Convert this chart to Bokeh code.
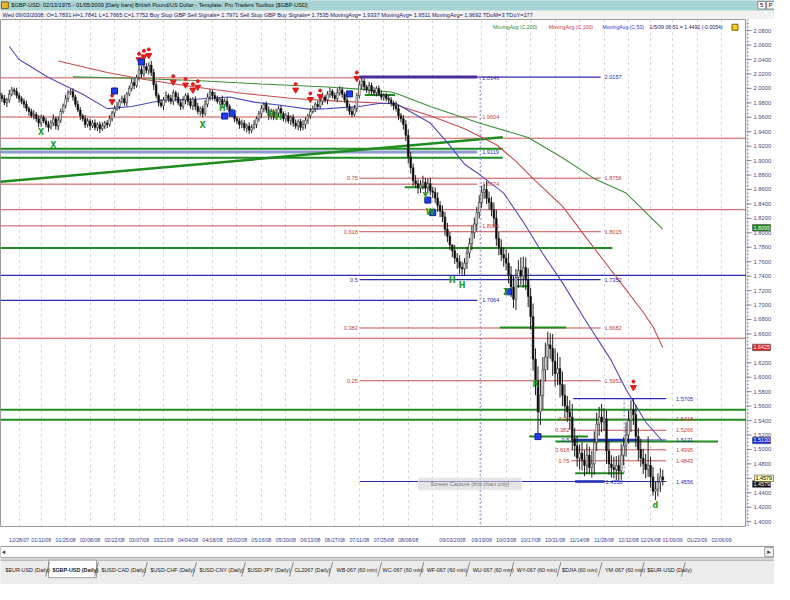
import pandas as pd
from bokeh.plotting import figure
from bokeh.layouts import column, row
from bokeh.models import ColumnDataSource, Range1d, FixedTicker
from bokeh.core.properties import value
from bokeh.embed import file_html
from bokeh.resources import INLINE

SANS = "Liberation Sans"

# ------------------------------------------------------------------ data
first_day = "2007-12-17"
axis_end_day = "2009-02-27"
holidays = ["2007-12-25", "2008-01-01", "2008-12-25", "2009-01-01"]

first_open = 1.994
close = [
    1.990, 1.986, 1.980, 1.984, 1.992, 1.998, 1.996, 1.990, 1.986, 1.982,
    1.978, 1.972, 1.968, 1.962, 1.964, 1.958, 1.952, 1.960, 1.955, 1.950,
    1.946, 1.952, 1.958, 1.948, 1.956, 1.968, 1.976, 1.986, 1.994, 1.996,
    1.988, 1.978, 1.970, 1.962, 1.958, 1.950, 1.955, 1.948, 1.952, 1.946,
    1.950, 1.944, 1.948, 1.952, 1.950, 1.958, 1.966, 1.972, 1.975, 1.982,
    1.986, 1.980, 1.992, 2.000, 2.008, 2.004, 2.015, 2.026, 2.020, 2.030,
    2.025, 2.032, 2.022, 2.005, 1.990, 1.980, 1.976, 1.984, 1.990, 1.986,
    1.982, 1.994, 1.988, 1.980, 1.975, 1.984, 1.990, 1.982, 1.976, 1.985,
    1.975, 1.968, 1.972, 1.965, 1.978, 1.988, 1.995, 1.990, 1.986, 1.982,
    1.985, 1.978, 1.982, 1.975, 1.968, 1.965, 1.958, 1.955, 1.950, 1.952,
    1.945, 1.948, 1.942, 1.946, 1.950, 1.958, 1.965, 1.972, 1.978, 1.970,
    1.962, 1.968, 1.960, 1.966, 1.972, 1.965, 1.958, 1.962, 1.955, 1.960,
    1.952, 1.948, 1.954, 1.946, 1.950, 1.956, 1.962, 1.968, 1.972, 1.978,
    1.975, 1.982, 1.988, 1.984, 1.992, 1.996, 1.990, 1.986, 1.994, 1.998,
    1.992, 1.984, 1.975, 1.968, 1.964, 1.972, 1.990, 2.005, 2.010, 2.002,
    1.998, 2.004, 1.996, 1.994, 2.000, 1.992, 1.988, 1.990, 1.986, 1.984,
    1.980, 1.976, 1.972, 1.962, 1.958, 1.950, 1.935, 1.905, 1.890, 1.872,
    1.868, 1.862, 1.866, 1.870, 1.862, 1.868, 1.858, 1.856, 1.848, 1.838,
    1.830, 1.822, 1.805, 1.795, 1.7831, 1.7752, 1.765, 1.760, 1.752, 1.750,
    1.758, 1.772, 1.785, 1.800, 1.812, 1.828, 1.842, 1.856, 1.860, 1.848,
    1.842, 1.832, 1.820, 1.792, 1.780, 1.770, 1.765, 1.758, 1.742, 1.725,
    1.708, 1.738, 1.748, 1.740, 1.752, 1.735, 1.712, 1.684, 1.625, 1.595,
    1.552, 1.575, 1.610, 1.628, 1.645, 1.640, 1.622, 1.605, 1.612, 1.590,
    1.575, 1.560, 1.552, 1.545, 1.515, 1.505, 1.488, 1.495, 1.485, 1.478,
    1.492, 1.475, 1.480, 1.510, 1.535, 1.545, 1.538, 1.542, 1.498, 1.480,
    1.475, 1.472, 1.478, 1.470, 1.492, 1.505, 1.520, 1.540, 1.555, 1.548,
    1.518, 1.500, 1.488, 1.480, 1.472, 1.478, 1.462, 1.442, 1.445, 1.455,
    1.462, 1.4579,
]
# wick extension above max(open, close) / below min(open, close), in 0.001
hi_ext = [
    6, 4, 5, 3, 6, 4, 3, 5, 4, 3,   4, 5, 3, 4, 6, 3, 5, 4, 3, 4,
    5, 4, 6, 3, 5, 4, 3, 5, 4, 3,   4, 3, 5, 4, 3, 5, 4, 3, 4, 5,
    3, 4, 5, 3, 4, 5, 3, 4, 6, 3,   4, 5, 3, 4, 6, 5, 4, 6, 5, 6,
    5, 4, 6, 5, 4, 3, 5, 4, 6, 3,   5, 4, 3, 6, 4, 5, 3, 4, 5, 3,
    4, 5, 3, 4, 6, 5, 4, 3, 5, 4,   3, 5, 4, 6, 3, 4, 5, 3, 4, 5,
    4, 3, 5, 4, 6, 3, 4, 5, 3, 4,   5, 4, 3, 6, 4, 5, 3, 4, 5, 3,
    4, 5, 3, 4, 6, 4, 3, 5, 4, 3,   5, 4, 6, 3, 4, 5, 3, 4, 6, 5,
    4, 3, 5, 4, 6, 5, 4, 6, 5, 4,   3, 5, 4, 6, 3, 4, 5, 3, 4, 5,
    4, 3, 6, 5, 4, 5, 6, 8, 7, 6,   8, 6, 7, 9, 6, 7, 8, 6, 7, 8,
    6, 8, 7, 9, 6, 1, 8, 7, 9, 8,   7, 9, 8, 10, 9, 8, 10, 9, 8, 12,
    9, 8, 10, 12, 9, 11, 10, 12, 14, 12,   15, 12, 14, 18, 15, 14, 16, 12, 18, 15,
    20, 22, 18, 20, 18, 16, 20, 18, 22, 16,   18, 15, 14, 16, 18, 15, 14, 12, 15, 14,
    16, 12, 18, 15, 16, 14, 18, 15, 12, 14,   12, 15, 13, 14, 16, 12, 18, 14, 13, 15,
    14, 12, 15, 13, 14, 40, 12, 14, 10, 12,   12, 10,
]
lo_ext = [
    4, 5, 3, 6, 4, 3, 5, 4, 6, 4,   5, 4, 6, 3, 5, 4, 6, 5, 3, 4,
    6, 3, 4, 5, 6, 4, 3, 4, 5, 3,   5, 4, 3, 6, 4, 5, 4, 6, 3, 4,
    5, 6, 3, 4, 5, 3, 4, 5, 3, 4,   3, 4, 5, 3, 4, 5, 3, 4, 5, 4,
    4, 6, 5, 7, 4, 5, 3, 6, 4, 5,   4, 5, 6, 3, 5, 4, 6, 5, 4, 6,
    5, 4, 6, 5, 3, 4, 5, 6, 4, 3,   5, 4, 3, 5, 6, 4, 5, 4, 6, 5,
    4, 6, 5, 4, 3, 5, 4, 6, 5, 4,   6, 5, 4, 3, 5, 6, 4, 5, 4, 6,
    5, 4, 6, 5, 4, 6, 5, 4, 3, 5,   4, 3, 5, 4, 6, 5, 4, 3, 5, 4,
    5, 4, 6, 5, 4, 3, 5, 4, 6, 5,   4, 6, 5, 4, 5, 3, 4, 5, 4, 6,
    5, 6, 4, 6, 5, 7, 8, 9, 8, 7,   6, 8, 7, 6, 8, 7, 6, 8, 7, 9,
    8, 7, 9, 8, 7, 8.7, 8, 10, 9, 8,   9, 8, 7, 9, 8, 10, 8, 7, 9, 8,
    10, 9, 12, 10, 11, 9, 12, 10, 12, 14,   12, 15, 14, 12, 16, 14, 15, 18, 16, 20,
    34, 18, 20, 16, 18, 15, 20, 18, 16, 18,   15, 16, 14, 18, 16, 15, 12, 16, 14, 15,
    12, 9, 14, 15, 12, 16, 14, 12, 18, 15,   14, 12, 15, 13, 12, 14, 15, 12, 16, 14,
    15, 16, 12, 14, 12, 10, 15, 6, 12, 10,   14, 8,
]

# date labels of the time axis; the crosshair tooltip (09/03/2008) hides 08/22/08 and 09/05/08
tick_dates = ["12/28/07", "01/11/08", "01/25/08", "02/08/08", "02/22/08", "03/07/08",
              "03/21/08", "04/04/08", "04/18/08", "05/02/08", "05/16/08", "05/30/08",
              "06/13/08", "06/27/08", "07/11/08", "07/25/08", "08/08/08", "08/22/08",
              "09/05/08", "09/19/08", "10/03/08", "10/17/08", "10/31/08", "11/14/08",
              "11/28/08", "12/12/08", "12/26/08", "01/09/09", "01/23/09", "02/06/09"]
cursor_date = "09/03/08"
cursor_label = "09/03/2008"
hidden_dates = ["08/22/08", "09/05/08"]

# moving averages (bar index, value)
ma200_i = [30, 54, 80, 107, 134, 147, 160, 163, 176, 196, 216, 230, 243, 256, 271]
ma200_v = [2.016, 2.014, 2.011, 2.006, 2.002, 1.999, 1.995, 1.992, 1.975, 1.952, 1.932, 1.904, 1.875, 1.855, 1.805]
ma100_i = [24, 44, 60, 80, 100, 120, 140, 160, 176, 190, 203, 211, 219, 230, 240, 247, 254, 263, 267, 271]
ma100_v = [2.038, 2.022, 2.012, 2.002, 1.993, 1.986, 1.982, 1.979, 1.962, 1.944, 1.922, 1.899, 1.872, 1.837,
           1.792, 1.761, 1.730, 1.690, 1.670, 1.641]
ma50_i = [4, 8, 20, 34, 44, 54, 67, 80, 94, 104, 114, 127, 134, 147, 155, 162, 176, 183, 190, 196,
          206, 214, 222, 230, 239, 250, 256, 264, 271]
ma50_v = [2.058, 2.040, 2.015, 1.992, 1.972, 1.975, 1.984, 1.985, 1.988, 1.981, 1.977, 1.971, 1.972,
          1.975, 1.979, 1.979, 1.952, 1.925, 1.895, 1.881, 1.855, 1.815, 1.771, 1.731, 1.681, 1.623,
          1.583, 1.538, 1.511]

# horizontal levels: price, start bar, end bar, kind
lvl_price = [2.0146, 2.0157, 2.0157, 1.9604, 1.9310, 1.9165, 1.9119, 1.9040, 1.8756, 1.8674,
             1.8320, 1.8096, 1.8015, 1.7790, 1.7410, 1.7352, 1.7064, 1.6690, 1.6682, 1.6540,
             1.5951, 1.5705, 1.5550, 1.5410, 1.5418, 1.5266, 1.5180, 1.5131, 1.5131, 1.5110,
             1.4995, 1.4843, 1.4670, 1.4556, 1.4556, 1.9910, 1.8630, 1.7260]
lvl_start = [0.4, 147.2, 195.2, 0.4, 0.4, 0.4, 0.4, 0.4, 147.2, 0.4,
             0.4, 0.4, 147.2, 0.4, 0.4, 147.2, 0.4, 204.4, 147.2, 0.4,
             147.2, 234.4, 0.4, 0.4, 233.6, 233.6, 216.4, 233.6, 233.6, 227.2,
             233.6, 233.6, 235.2, 147.2, 235.2, 149.2, 165.6, 211.2]
lvl_end = [147.2, 195.2, 245.6, 195.2, 305.2, 205.6, 195.2, 205.6, 245.6, 195.2,
           305.2, 195.2, 245.6, 250.4, 305.2, 245.6, 195.2, 231.6, 245.6, 305.2,
           245.6, 272.4, 305.2, 305.2, 272.4, 272.4, 240.4, 272.4, 260.4, 293.6,
           272.4, 272.4, 255.2, 272.4, 247.2, 161.6, 176.4, 216.4]
lvl_kind = ["red", "purple", "blue", "red", "red", "green", "greyblue", "green", "red", "red",
            "red", "red", "red", "green", "blue", "blue", "blue", "green", "red", "red",
            "red", "blue", "green", "green", "red", "red", "green", "blue", "bluethick", "green",
            "red", "red", "green", "blue", "bluethick", "green", "green", "green"]
trend_x = [0.4, 205.6]
trend_p = [1.8707, 1.9322]

# level texts
lab_text = ["2.0146", "2.0157", "1.9604", "1.9119", "1.8756", "1.8674", "1.8096", "1.8015",
            "1.7352", "1.7064", "1.6682", "1.5951", "1.5705", "1.5418", "1.5266", "1.5131",
            "1.4995", "1.4843", "1.4550", "1.4556"]
lab_x = [197.2, 247.2, 197.2, 197.2, 247.2, 197.2, 197.2, 247.2, 247.2, 197.2, 247.2, 247.2,
         276.4, 276.4, 276.4, 276.4, 276.4, 276.4, 247.6, 276.4]
lab_p = [2.0146, 2.0157, 1.9604, 1.9119, 1.8756, 1.8674, 1.8096, 1.8015, 1.7352, 1.7064,
         1.6682, 1.5951, 1.5705, 1.5418, 1.5266, 1.5131, 1.4995, 1.4843, 1.4556, 1.4556]
lab_kind = ["purple", "blue", "red", "blue", "red", "red", "red", "red", "blue", "blue", "red",
            "red", "blue", "red", "red", "blue", "red", "red", "blue", "blue"]
fib_text = ["0.75", "0.618", "0.5", "0.382", "0.25", "0.25", "0.382", "0.5", "0.618", "0.75"]
fib_x = [146.4, 146.4, 146.4, 146.4, 146.4, 232.8, 232.8, 232.8, 232.8, 232.8]
fib_p = [1.8756, 1.8015, 1.7352, 1.6682, 1.5951, 1.5418, 1.5266, 1.5131, 1.4995, 1.4843]
fib_kind = ["red", "red", "blue", "red", "red", "red", "red", "blue", "red", "red"]

# signals
red_i = [46, 57, 59, 61, 71, 76, 79, 81, 121, 127, 131, 146, 259]
red_p = [1.982, 2.040, 2.044, 2.046, 2.009, 2.005, 1.998, 2.002, 1.998, 1.985, 1.989, 2.014, 1.586]
blue_i = [47, 58, 92, 95, 143, 175, 177, 208, 220]
blue_p = [1.9964, 2.0365, 1.9617, 1.9657, 1.9924, 1.8453, 1.8279, 1.7183, 1.5178]
grn_i = [17, 22, 83, 91, 111, 114, 174, 176, 185, 189, 207, 219, 268]
grn_p = [1.9389, 1.9215, 1.9483, 1.9724, 1.9644, 1.9590, 1.8507, 1.8280, 1.7343, 1.7276, 1.7169,
         1.5898, 1.4227]
grn_t = ["X", "X", "X", "H", "H", "H", "Y", "W", "H", "H", "Z", "R", "d"]

# price-axis flags
flag_p = [1.8070, 1.6413, 1.5124, 1.4520, 1.4600]
flag_t = ["1.8095", "1.6425", "1.5130", "1.4579", "1.4579"]

price_ticks = [round(1.40 + 0.02 * k, 2) for k in range(35)]
minor_ticks = [round(1.395 + 0.005 * k, 3) for k in range(141)]

# ------------------------------------------------------------------ derived
bdays = pd.bdate_range(first_day, axis_end_day)
bdays = bdays[~bdays.isin(pd.to_datetime(holidays))]


def day_index(d):
    return int(bdays.get_loc(pd.to_datetime(d, format="%m/%d/%y")))


grid_pos = [day_index(t) for t in tick_dates]
lab_dates = [t for t in tick_dates if t not in hidden_dates]
tick_pos = [day_index(t) for t in lab_dates] + [day_index(cursor_date)]
tick_txt = lab_dates + [cursor_label]

n = len(close)
idx = list(range(n))
opens = [first_open] + close[:-1]
highs = [max(o, c) + h / 1000 for o, c, h in zip(opens, close, hi_ext)]
lows = [min(o, c) - l / 1000 for o, c, l in zip(opens, close, lo_ext)]
tops = [max(o, c) for o, c in zip(opens, close)]
bots = [min(o, c) for o, c in zip(opens, close)]
fills = ["white" if c >= o else "black" for o, c in zip(opens, close)]

STY = {"red": ("#c85050", 1.0), "blue": ("#2a2ab0", 1.2), "green": ("#1e8c1e", 2.0),
       "purple": ("#4a2a9c", 3.0), "greyblue": ("#8c9ccc", 3.0), "bluethick": ("#2030b0", 2.6)}
TXT = {"red": "#c83c3c", "blue": "#2a2ab0", "purple": "#4a2a9c"}

W = 774
SIDE = 28
X0, X1 = 0.4, 305.2
Y0, Y1 = 1.3933, 2.0954
yr = Range1d(Y0, Y1)

# ------------------------------------------------------------------ header
hdr = figure(width=W, height=19, x_range=Range1d(0, 790), y_range=Range1d(20, 0),
             x_axis_type=None, y_axis_type=None, output_backend="svg", toolbar_location=None,
             min_border=0)
hdr.grid.visible = False
hdr.outline_line_color = None
hdr.background_fill_color = "#f2f2f2"
hdr.quad(left=[0], right=[790], top=[0], bottom=[10], color="#a6d3d3")
hdr.quad(left=[1], right=[8], top=[1.5], bottom=[8.5], fill_color="#e8b830", line_color="#806020")
hdr.quad(left=[773, 782], right=[781, 790], top=[1, 1], bottom=[9, 9], fill_color="white",
         line_color="#888888")
hdr.text(x=[777, 786], y=[5.2, 5.2], text=["5", "P"], text_font=value(SANS), text_font_size="6px",
         text_align="center", text_baseline="middle", text_color="black")
hdr.text(x=[11], y=[5.2], text=["$GBP-USD:  02/13/1975 - 01/05/2009  [Daily bars]   British Pound/US Dollar  -  "
                                "Template: Pro Traders Toolbox [$GBP-USD]"],
         text_font=value(SANS), text_font_size="5.6px", text_baseline="middle", text_color="#101010")
hdr.text(x=[2], y=[15.2], text=["Wed 09/03/2008:  O=1.7831  H=1.7841  L=1.7665  C=1.7752  Buy Stop GBP Sell "
                                "Signals= 1.7971  Sell Stop GBP Buy Signals= 1.7535  MovingAvg= 1.9337  "
                                "MovingAvg= 1.9511  MovingAvg= 1.9692  TDoM=3  TDoY=177"],
         text_font=value(SANS), text_font_size="5.6px", text_baseline="middle", text_color="#1a1a6e")

# ------------------------------------------------------------------ main chart
main = figure(width=W - SIDE, height=526, x_range=Range1d(X0, X1), y_range=yr,
              y_axis_location=None, output_backend="svg", toolbar_location=None,
              min_border_left=0, min_border_top=0, min_border_right=0, min_border_bottom=15)
main.background_fill_color = "white"
main.border_fill_color = "white"
main.outline_line_color = "#9a9a9a"

xa = main.xaxis[0]
xa.ticker = FixedTicker(ticks=tick_pos)
xa.major_label_overrides = {p: lab for p, lab in zip(tick_pos, tick_txt)}
xa.major_label_text_font = SANS
xa.major_label_text_font_size = "5.2px"
xa.major_label_text_color = "#3c3c8c"
xa.major_label_standoff = 4
xa.major_tick_line_color = None
xa.axis_line_color = None

main.xgrid.ticker = FixedTicker(ticks=grid_pos)
main.xgrid.grid_line_color = "#c8c8d4"
main.xgrid.grid_line_dash = "dotted"
main.ygrid.grid_line_color = None

# level lines
for kind in STY:
    sel = [k == kind for k in lvl_kind]
    src = ColumnDataSource(dict(
        x0=[v for v, s in zip(lvl_start, sel) if s], x1=[v for v, s in zip(lvl_end, sel) if s],
        y=[v for v, s in zip(lvl_price, sel) if s]))
    main.segment(x0="x0", y0="y", x1="x1", y1="y", line_color=STY[kind][0],
                 line_width=STY[kind][1], source=src)
main.line(trend_x, trend_p, line_color="#1e8c1e", line_width=2.5)

# vertical dotted markers
main.segment(x0=[196.4, 255.2], y0=[2.0146, 1.5705], x1=[196.4, 255.2], y1=[Y0, 1.4670],
             line_color="#8080c0", line_dash="2 2", line_width=1)

# moving averages
main.line(ma200_i, ma200_v, line_color="#3a8f3a", line_width=1.1)
main.line(ma100_i, ma100_v, line_color="#c84a4a", line_width=1.1)
main.line(ma50_i, ma50_v, line_color="#4a4ac0", line_width=1.1)

# candles
csrc = ColumnDataSource(dict(x=idx, h=highs, l=lows, top=tops, bot=bots, fill=fills))
main.segment(x0="x", y0="h", x1="x", y1="l", line_color="#202020", line_width=1, source=csrc)
main.vbar(x="x", width=0.7, top="top", bottom="bot", fill_color="fill", line_color="#202020",
          line_width=0.6, source=csrc)

# signals
main.scatter(red_i, red_p, marker="inverted_triangle", size=6, color="#e01c1c")
main.scatter(red_i, [p + 0.008 for p in red_p], marker="circle", size=3, color="#e01c1c")
main.scatter(blue_i, blue_p, marker="square", size=6, fill_color="#1e3cf0", line_color="#10208a")
main.text(grn_i, grn_p, text=grn_t, text_font=value("DejaVu Sans"), text_font_size="8px",
          text_font_style="bold", text_color="#1e9a1e", text_align="center", text_baseline="middle")

# level texts
for kinds, xs, ps, ts, align in ((lab_kind, lab_x, lab_p, lab_text, "left"),
                                 (fib_kind, fib_x, fib_p, fib_text, "right")):
    s = ColumnDataSource(dict(x=xs, y=ps, t=ts, c=[TXT[k] for k in kinds]))
    main.text(x="x", y="y", text="t", text_color="c", text_font=value(SANS),
              text_font_size="5.6px", text_align=align, text_baseline="middle", source=s)

# ghost tooltip
main.quad(left=[171.2], right=[213.2], top=[1.4602], bottom=[1.4442], fill_color="#d4d4d4",
          fill_alpha=0.6, line_color="#e4e4e4")
main.text(x=[192.2], y=[1.4522], text=["Screen Capture (this chart only)"], text_font=value(SANS),
          text_font_size="5.6px", text_color="#777777", text_align="center", text_baseline="middle")

# legend line at the top
leg = ColumnDataSource(dict(x=[201.6, 224.4, 246.4, 265.6], y=[2.0847] * 4,
                            t=["MovingAvg (C,200)", "MovingAvg (C,100)", "MovingAvg (C,50)",
                               "1/5/09 06:51 = 1.4492 (-0.0054)"],
                            c=["#2e8b2e", "#cc3333", "#3333cc", "#1a1a66"]))
main.text(x="x", y="y", text="t", text_color="c", text_font=value(SANS), text_font_size="5.2px",
          text_baseline="middle", source=leg)
main.scatter([300.5], [2.0847], marker="square", size=6, fill_color="#f0d020", line_color="#806000")

# ------------------------------------------------------------------ price scale (right strip)
side = figure(width=SIDE, height=526, x_range=Range1d(0, SIDE), y_range=yr,
              x_axis_type=None, y_axis_type=None, output_backend="svg", toolbar_location=None,
              min_border_left=0, min_border_top=0, min_border_right=0, min_border_bottom=15)
side.grid.visible = False
side.outline_line_color = None
side.background_fill_color = "white"
side.border_fill_color = "white"
side.segment(x0=[0.5], y0=[Y0], x1=[0.5], y1=[Y1], line_color="#b0b0b0")
side.segment(x0=[0] * len(minor_ticks), y0=minor_ticks, x1=[2.5] * len(minor_ticks), y1=minor_ticks,
             line_color="#a0a0b8", line_width=1)
side.segment(x0=[0] * len(price_ticks), y0=price_ticks, x1=[5] * len(price_ticks), y1=price_ticks,
             line_color="#8080a0", line_width=1)
side.text(x=[7] * len(price_ticks), y=price_ticks, text=[f"{t:.4f}" for t in price_ticks],
          text_font=value(SANS), text_font_size="5.8px", text_color="#4a4a80", text_baseline="middle")
fsrc = ColumnDataSource(dict(l=[6, 6, 6, 6, 8], r=[24, 24, 24, 24, 27],
                             b=[p - 0.0045 for p in flag_p], t=[p + 0.0045 for p in flag_p],
                             y=flag_p, txt=flag_t,
                             bg=["#1a8a1a", "#e02020", "#1a2ae0", "#101010", "#fff8b0"],
                             fg=["white", "white", "white", "white", "black"]))
side.quad(left="l", right="r", bottom="b", top="t", fill_color="bg", line_color="#505050",
          line_width=0.6, source=fsrc)
side.text(x="l", y="y", x_offset=1, text="txt", text_color="fg", text_font=value(SANS),
          text_font_size="5.4px", text_baseline="middle", source=fsrc)

# ------------------------------------------------------------------ bottom strip
tab_names = ["$EUR-USD (Daily)", "$GBP-USD (Daily)", "$USD-CAD (Daily)", "$USD-CHF (Daily)",
             "$USD-CNY (Daily)", "$USD-JPY (Daily)", "CL2067 (Daily)", "WB-067 (60 min)",
             "WC-067 (60 min)", "WF-067 (60 min)", "WU-067 (60 min)", "WY-067 (60 min)",
             "$DJIA (60 min)", "YM-067 (60 min)", "$EUR-USD (Daily)"]
tab_left = [5, 53, 103, 153, 203, 252, 300, 343, 390, 435, 482, 527, 573, 617, 660]
tab_sep = [48, 98, 148, 198, 248, 297, 337, 387, 430, 477, 522, 570, 612, 655, 697]

bot = figure(width=W, height=39, x_range=Range1d(0, 790), y_range=Range1d(600, 560),
             x_axis_type=None, y_axis_type=None, output_backend="svg", toolbar_location=None,
             min_border=0)
bot.grid.visible = False
bot.outline_line_color = None
bot.background_fill_color = "#ececec"
bot.quad(left=[0], right=[790], top=[561], bottom=[572.5], fill_color="white", line_color="#9a9a9a")
bot.quad(left=[780], right=[789], top=[562], bottom=[571.5], fill_color="#f0f0f0", line_color="#a0a0a0")
bot.text(x=[3, 784.5], y=[566.8, 566.8], text=["\u25c2", "\u25b8"], text_font=value("DejaVu Sans"),
         text_font_size="7px", text_align="center", text_baseline="middle", text_color="#404040")
bot.segment(x0=[0], y0=[575], x1=[790], y1=[575], line_color="#a0a0a0")
bot.quad(left=[49], right=[98], top=[575], bottom=[593], fill_color="white", line_color="#a0a0a0")
bot.segment(x0=[s - 2 for s in tab_sep], y0=[592] * len(tab_sep), x1=[s + 2 for s in tab_sep],
            y1=[577] * len(tab_sep), line_color="#8a8a8a", line_width=1)
tsrc = ColumnDataSource(dict(x=tab_left, y=[585] * len(tab_left), t=tab_names,
                             st=["bold" if k == 1 else "normal" for k in range(len(tab_names))]))
bot.text(x="x", y="y", text="t", text_font=value(SANS), text_font_size="5.4px",
         text_font_style="st", text_baseline="middle", text_color="#202020", source=tsrc)

layout = column(hdr, row(main, side, spacing=0), bot, spacing=0)
open("out.html", "w").write(file_html(layout, INLINE))
